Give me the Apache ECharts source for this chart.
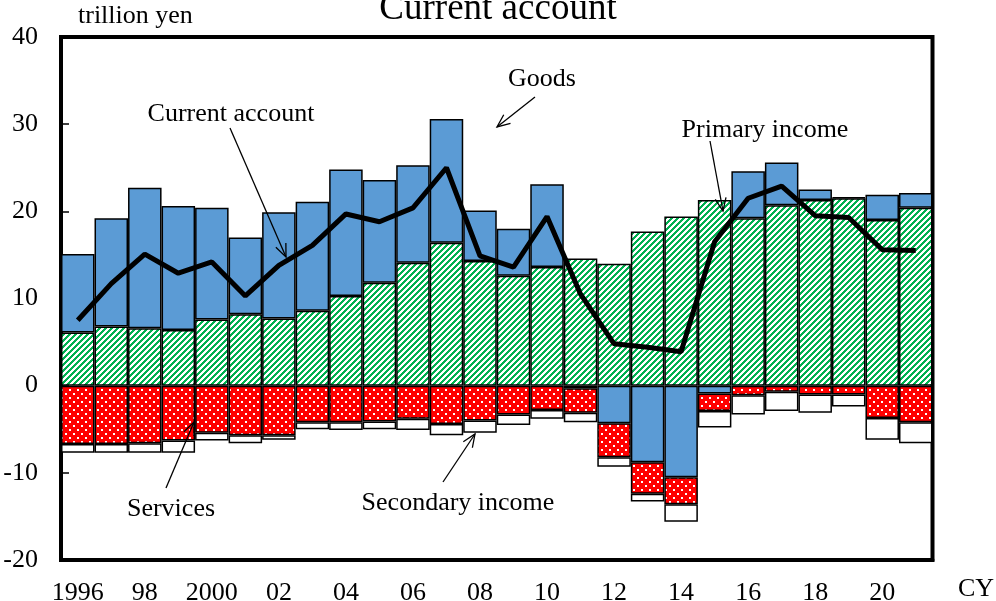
<!DOCTYPE html>
<html>
<head>
<meta charset="utf-8">
<script src="https://cdn.jsdelivr.net/npm/echarts@6/dist/echarts.min.js"></script>
<style>
  html, body { margin: 0; padding: 0; background: #fff; }
  #chart { width: 996px; height: 601px; }
</style>
</head>
<body>
<div id="chart"></div>
<script>
// calendar years, labels shown every other year
const years = ['1996', '97', '98', '99', '2000', '01', '02', '03', '04', '05', '06', '07', '08',
  '09', '10', '11', '12', '13', '14', '15', '16', '17', '18', '19', '20', '21'];

// trillion yen
const primaryIncome = [6.1, 6.8, 6.6, 6.4, 7.6, 8.2, 7.7, 8.6, 10.3, 11.8, 14.1, 16.4, 14.3,
  12.6, 13.6, 14.6, 14.0, 17.7, 19.4, 21.3, 19.2, 20.7, 21.3, 21.5, 19.0, 20.4];
const goods = [9.0, 12.4, 16.1, 14.2, 12.8, 8.8, 12.2, 12.5, 14.5, 11.8, 11.2, 14.2, 5.8,
  5.4, 9.5, -0.3, -4.3, -8.8, -10.5, -0.9, 5.4, 4.9, 1.2, 0.1, 2.9, 1.7];
const services = [-6.7, -6.7, -6.6, -6.3, -5.4, -5.7, -5.7, -4.2, -4.2, -4.1, -3.8, -4.4, -4.0,
  -3.3, -2.8, -2.8, -3.9, -3.6, -3.1, -2.0, -1.1, -0.7, -1.0, -1.0, -3.7, -4.2];
const secondaryIncome = [-1.0, -1.0, -1.1, -1.4, -0.9, -0.9, -0.5, -0.8, -0.9, -0.9, -1.3, -1.3, -1.4,
  -1.2, -1.0, -1.1, -1.1, -0.9, -2.0, -1.9, -2.2, -2.2, -2.1, -1.4, -2.5, -2.4];
const currentAccount = [7.5, 11.7, 15.1, 12.9, 14.2, 10.3, 13.8, 16.1, 19.7, 18.8, 20.4, 25.0, 14.9,
  13.6, 19.4, 10.5, 4.8, 4.4, 3.9, 16.5, 21.5, 22.9, 19.5, 19.3, 15.6, 15.5];

const yMin = -20, yMax = 40, yStep = 10;

const FONT = 'Liberation Serif';

// fill patterns
function hatchPattern() {
  const c = document.createElement('canvas');
  c.width = 6; c.height = 6;
  const ctx = c.getContext('2d');
  ctx.fillStyle = '#fff';
  ctx.fillRect(0, 0, 6, 6);
  ctx.fillStyle = '#00B050';
  for (let x = 0; x < 6; x++) {
    for (let y = 0; y < 6; y++) {
      if ((x + y) % 6 < 3) ctx.fillRect(x, y, 1, 1);
    }
  }
  return c;
}

function dotPattern() {
  const c = document.createElement('canvas');
  c.width = 8; c.height = 8;
  const ctx = c.getContext('2d');
  ctx.fillStyle = '#FF0000';
  ctx.fillRect(0, 0, 8, 8);
  ctx.fillStyle = '#fff';
  ctx.fillRect(1, 1, 2, 2);
  ctx.fillRect(5, 5, 2, 2);
  return c;
}

function arrow(x1, y1, x2, y2) {
  const a = Math.atan2(y2 - y1, x2 - x1);
  const len = 14, spread = 0.4;
  const p1 = [x2 - len * Math.cos(a - spread), y2 - len * Math.sin(a - spread)];
  const p2 = [x2 - len * Math.cos(a + spread), y2 - len * Math.sin(a + spread)];
  return {
    type: 'group',
    z: 100,
    children: [
      { type: 'line', z: 100, shape: { x1: x1, y1: y1, x2: x2, y2: y2 }, style: { stroke: '#000', lineWidth: 1.3 } },
      { type: 'polyline', z: 100, shape: { points: [p1, [x2, y2], p2] }, style: { stroke: '#000', fill: null, lineWidth: 1.3 } }
    ]
  };
}

function label(text, x, y, align) {
  return {
    type: 'text',
    z: 100,
    x: x, y: y,
    style: {
      text: text,
      fill: '#000',
      font: '26px "' + FONT + '"',
      textAlign: align || 'center',
      textVerticalAlign: 'middle'
    }
  };
}

const barBorder = { borderColor: '#000', borderWidth: 1.5 };

const chart = echarts.init(document.getElementById('chart'));
chart.setOption({
  animation: false,
  title: {
    text: 'Current account',
    left: 'center',
    top: -14,
    textStyle: { fontFamily: FONT, fontSize: 37, fontWeight: 'normal', color: '#000' }
  },
  grid: {
    left: 61, right: 63.5, top: 37, bottom: 41,
    outerBoundsMode: 'none',
    containLabel: false,
    show: true,
    borderColor: '#000',
    borderWidth: 4
  },
  xAxis: {
    type: 'category',
    data: years,
    axisLine: { onZero: false, lineStyle: { color: '#000', width: 4 } },
    axisTick: { show: false },
    axisLabel: {
      interval: 1,
      margin: 20,
      fontFamily: FONT,
      fontSize: 26,
      color: '#000'
    }
  },
  yAxis: {
    type: 'value',
    min: yMin, max: yMax, interval: yStep,
    splitLine: { show: false },
    axisLine: { show: true, lineStyle: { color: '#000', width: 4 } },
    axisTick: { show: true, inside: true, length: 8, lineStyle: { color: '#000', width: 1.5 } },
    axisLabel: {
      margin: 23,
      fontFamily: FONT,
      fontSize: 26,
      color: '#000'
    }
  },
  series: [
    {
      name: 'Primary income',
      type: 'bar',
      stack: 'ca',
      barCategoryGap: '0%',
      data: primaryIncome,
      itemStyle: Object.assign({ color: { image: hatchPattern(), repeat: 'repeat' } }, barBorder)
    },
    {
      name: 'Goods',
      type: 'bar',
      stack: 'ca',
      data: goods,
      itemStyle: Object.assign({ color: '#5B9BD5' }, barBorder)
    },
    {
      name: 'Services',
      type: 'bar',
      stack: 'ca',
      data: services,
      itemStyle: Object.assign({ color: { image: dotPattern(), repeat: 'repeat' } }, barBorder)
    },
    {
      name: 'Secondary income',
      type: 'bar',
      stack: 'ca',
      data: secondaryIncome,
      itemStyle: Object.assign({ color: '#fff' }, barBorder)
    },
    {
      name: 'Current account',
      type: 'line',
      data: currentAccount,
      symbol: 'none',
      z: 10,
      lineStyle: { color: '#000', width: 5 }
    }
  ],
  graphic: [
    label('trillion yen', 78, 16, 'left'),
    label('CY', 958, 589, 'left'),
    label('Current account', 231, 114),
    arrow(230, 128, 286, 257),
    label('Goods', 542, 79),
    arrow(535, 97, 497, 127),
    label('Primary income', 765, 130),
    arrow(710, 141, 723, 211),
    label('Services', 171, 509),
    arrow(166, 488, 194, 422),
    label('Secondary income', 458, 503),
    arrow(443, 482, 475, 434)
  ]
});
</script>
</body>
</html>
